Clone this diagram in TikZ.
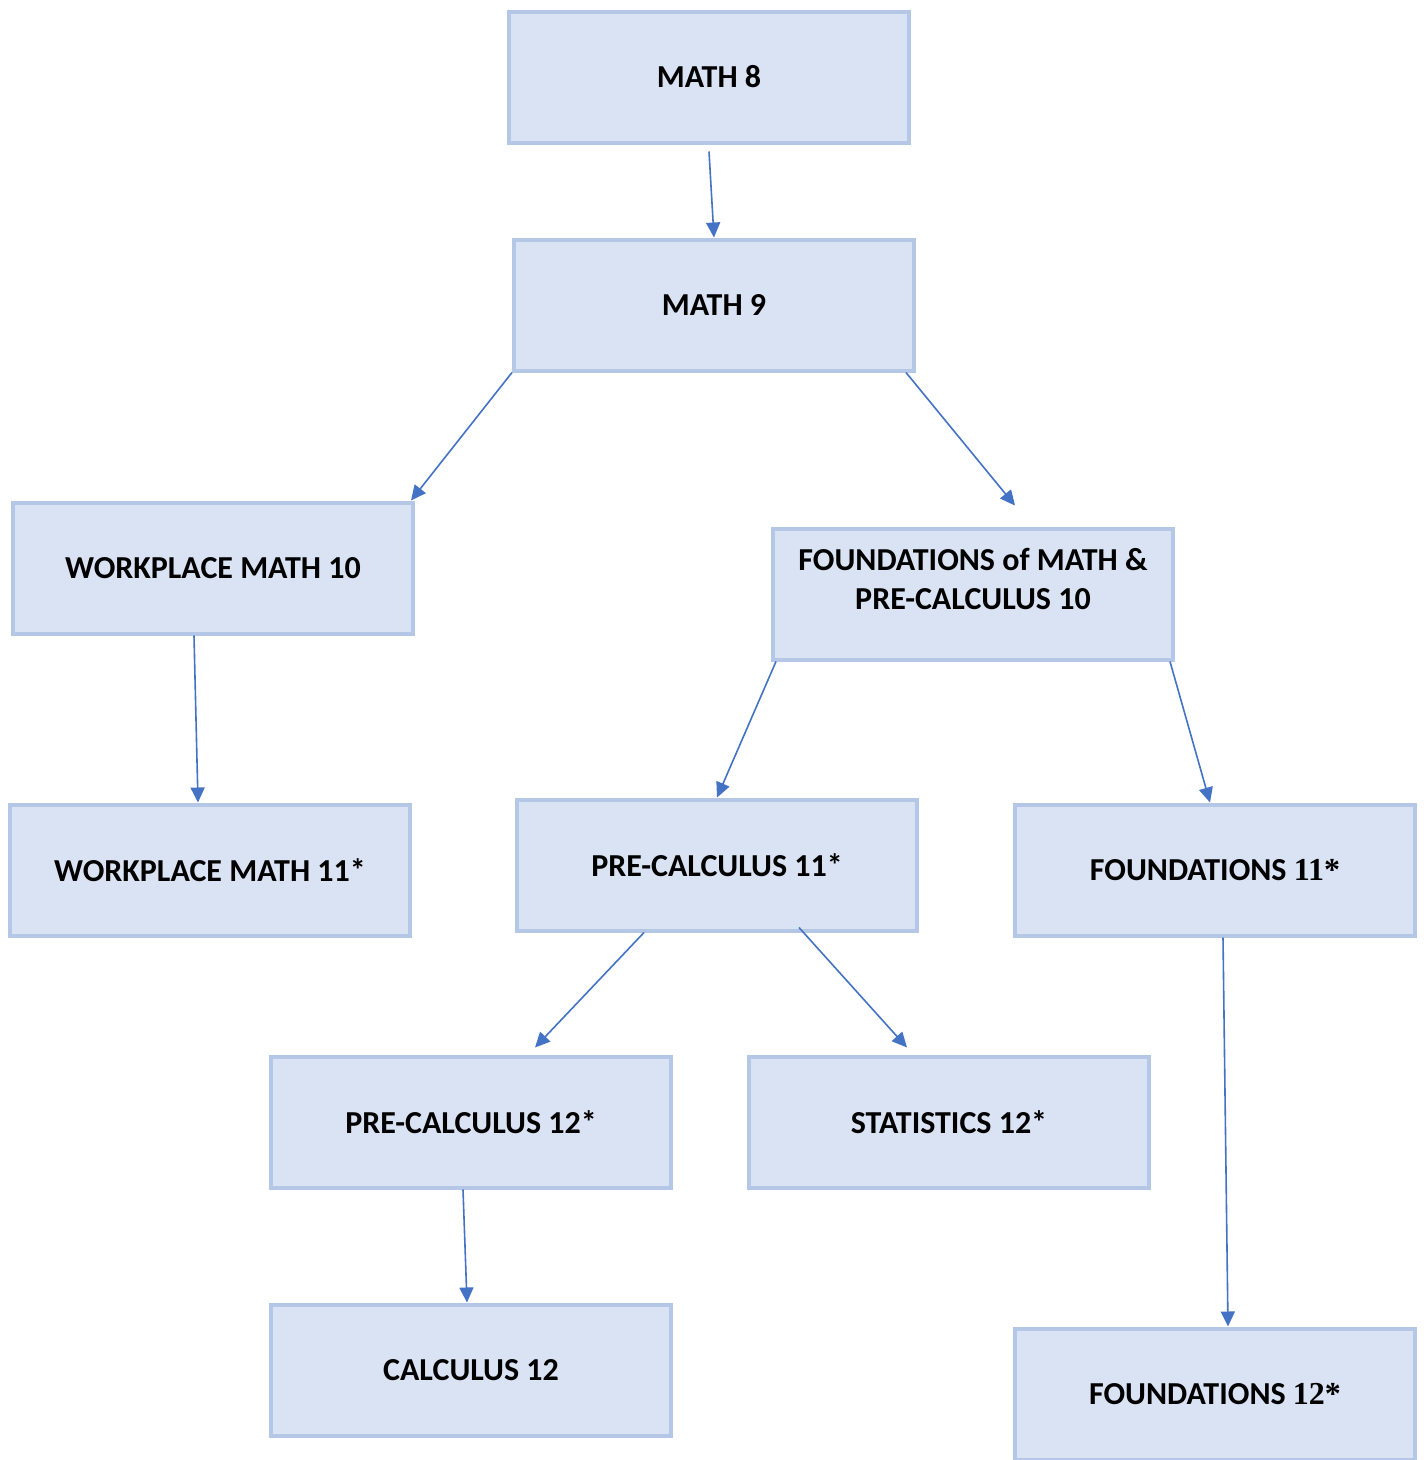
\documentclass[tikz,border=0pt]{standalone}
\usepackage{fontspec}
\setmainfont{Carlito}
\newfontfamily\numfont{Liberation Serif}
\usepackage{tikz}
\usetikzlibrary{arrows.meta,positioning}

\definecolor{boxfill}{HTML}{DAE3F3}
\definecolor{boxline}{HTML}{B4C7E7}
\definecolor{arrowblue}{HTML}{4472C4}

\begin{document}
\begin{tikzpicture}[x=1pt,y=-1pt]
				\tikzstyle{Course} 	= [draw=boxline, line width=4pt, fill=boxfill, minimum width=400pt, minimum height=131pt, inner sep=0pt, align=center, font=\fontsize{32}{39}\selectfont\bfseries]
				\tikzstyle{Link}	= [draw=arrowblue, line width=1.6pt, -{Triangle[length=15pt,width=14pt]}]

				\useasboundingbox (0,0) rectangle (1424,1460);

				\node (m8) at (709,77) [Course] {MATH 8};
				\node (m9) at (714,305) [Course] {MATH 9};

				\node (wp10) at (213,568) [Course] {WORKPLACE MATH 10};
				\node (fd10) at (973,594) [Course, text depth=30pt] {FOUNDATIONS of MATH \&\\PRE-CALCULUS 10};

				\node (wp11) at (210,870) [Course] {WORKPLACE MATH 11*};
				\node (pc11) at (717,865) [Course] {PRE-CALCULUS 11*};
				\node (fo11) at (1215,870) [Course] {FOUNDATIONS {\numfont\bfseries 11*}};

				\node (pc12) at (471,1122) [Course] {PRE-CALCULUS 12*};
				\node (st12) at (949,1122) [Course] {STATISTICS 12*};

				\node (ca12) at (471,1370) [Course] {CALCULUS 12};
				\node (fo12) at (1215,1394) [Course] {FOUNDATIONS {\numfont\bfseries 12*}};

				\draw ([yshift=-7pt]m8.south) to (m9.north) [Link];
				\draw (m9.south west) to ([xshift=-4pt]wp10.north east) [Link];
				\draw ([xshift=-10pt]m9.south east) to ([xshift=42pt,yshift=21pt]fd10.north) [Link];
				\draw ([xshift=5pt]fd10.south west) to (pc11.north) [Link];
				\draw ([xshift=-5pt]fd10.south east) to ([xshift=-5pt]fo11.north) [Link];
				\draw ([xshift=-19pt]wp10.south) to ([xshift=-12pt]wp11.north) [Link];
				\draw ([xshift=-73pt]pc11.south) to ([xshift=64pt,yshift=7pt]pc12.north) [Link];
				\draw ([xshift=82pt,yshift=5pt]pc11.south) to ([xshift=-42pt,yshift=7pt]st12.north) [Link];
				\draw ([xshift=8pt]fo11.south) to ([xshift=13pt]fo12.north) [Link];
				\draw ([xshift=-8pt]pc12.south) to ([xshift=-4pt]ca12.north) [Link];
			\end{tikzpicture}
\end{document}
